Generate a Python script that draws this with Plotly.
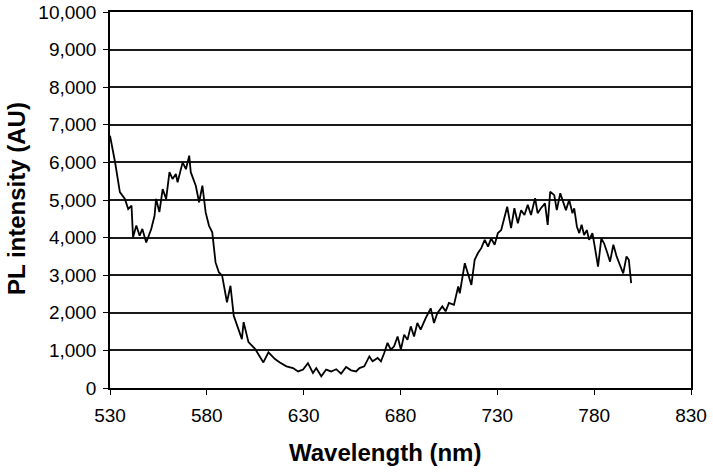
import plotly.graph_objects as go

# PL spectrum (wavelength in nm, intensity in AU)
wavelength = [
    530.0, 532.6, 535.1, 537.7, 539.4, 541.1, 541.9, 543.6, 545.3, 546.7,
    548.7, 551.3, 553.0, 553.8, 555.5, 557.2, 559.0, 560.7, 562.3, 564.0,
    564.9, 567.5, 569.2, 570.9, 571.7, 574.3, 576.0, 577.7, 579.4, 581.1,
    582.8, 584.5, 586.2, 587.9, 590.4, 592.2, 593.9, 596.4, 598.1, 599.0,
    601.5, 604.9, 609.2, 611.8, 615.2, 617.7, 621.1, 624.5, 627.1, 629.7,
    632.2, 634.8, 636.5, 639.1, 641.6, 644.2, 646.8, 649.3, 651.9, 654.5,
    657.1, 658.8, 661.3, 663.9, 665.6, 668.2, 669.9, 671.6, 673.3, 675.0,
    676.7, 678.5, 680.2, 681.9, 683.6, 685.3, 687.0, 688.7, 690.4, 693.0,
    695.6, 697.3, 699.0, 701.6, 703.3, 705.0, 707.6, 709.8, 710.6, 713.2,
    714.9, 716.6, 718.3, 720.0, 721.7, 723.5, 725.2, 726.8, 728.6, 730.3,
    732.0, 733.7, 735.1, 736.3, 737.1, 738.8, 740.6, 742.3, 744.0, 745.7,
    747.4, 749.5, 750.8, 752.5, 754.6, 756.0, 757.3, 759.4, 760.7, 762.5,
    764.2, 765.4, 767.1, 768.8, 769.7, 771.1, 772.3, 773.5, 774.8, 776.2,
    777.4, 779.1, 780.3, 782.0, 783.7, 785.1, 786.8, 788.2, 789.9, 791.6,
    793.3, 795.0, 796.7, 797.9, 799.1,
]
intensity = [
    6710, 6010, 5210, 5030, 4760, 4850, 4010, 4320, 4050, 4230,
    3870, 4230, 4580, 5030, 4680, 5290, 5030, 5740, 5560, 5690,
    5470, 6000, 5820, 6180, 5740, 5380, 4940, 5380, 4670, 4320,
    4140, 3340, 3080, 2990, 2280, 2720, 1920, 1570, 1300, 1750,
    1220, 1040, 680, 950, 770, 680, 575, 530, 440, 490,
    660, 400, 530, 310, 490, 440, 500, 380, 560, 470,
    440, 530, 575, 840, 710, 800, 710, 930, 1200, 1020,
    1110, 1370, 1020, 1420, 1280, 1640, 1370, 1730, 1550, 1860,
    2120, 1730, 1990, 2170, 2040, 2260, 2210, 2700, 2520, 3320,
    3050, 2740, 3410, 3590, 3720, 3940, 3760, 3980, 3810, 4120,
    4200, 4560, 4820, 4470, 4250, 4780, 4380, 4730, 4600, 4870,
    4600, 5050, 4650, 4780, 4910, 4340, 5220, 5130, 4730, 5180,
    4910, 4730, 5000, 4650, 4780, 4290, 4120, 4340, 4070, 4200,
    3940, 4120, 3760, 3230, 3980, 3850, 3590, 3360, 3810, 3500,
    3270, 3050, 3500, 3410, 2790,
]

x_ticks = [530, 580, 630, 680, 730, 780, 830]
y_ticks = list(range(0, 10001, 1000))
y_tick_labels = [f"{v:,}" for v in y_ticks]

FONT = "Liberation Sans, Arial, sans-serif"
W, H = 713, 473
L, R, T, B = 110, 22, 12, 85

fig = go.Figure()
fig.add_trace(go.Scatter(
    x=wavelength,
    y=intensity,
    mode="lines",
    line=dict(color="black", width=1.8),
    showlegend=False,
    hoverinfo="x+y",
))

axis_common = dict(
    ticks="outside",
    ticklen=5,
    tickwidth=1.2,
    tickcolor="black",
    zeroline=False,
    showline=True,
    linecolor="black",
    linewidth=1.5,
    mirror=True,
    automargin=False,
    ticklabeloverflow="allow",
    tickfont=dict(size=19),
)

fig.update_layout(
    width=W,
    height=H,
    paper_bgcolor="white",
    plot_bgcolor="white",
    margin=dict(l=L, r=R, t=T, b=B),
    font=dict(family=FONT, color="black", size=19),
    xaxis=dict(
        range=[530, 830],
        tickvals=x_ticks,
        showgrid=False,
        ticklabelstandoff=4,
        **axis_common,
    ),
    yaxis=dict(
        range=[0, 10000],
        tickvals=y_ticks,
        ticktext=y_tick_labels,
        showgrid=True,
        gridcolor="#1a1a1a",
        gridwidth=1.5,
        ticklabelstandoff=3,
        **axis_common,
    ),
)

# axis titles as annotations, positioned relative to the plot area
plot_w = W - L - R
plot_h = H - T - B
fig.add_annotation(
    text="<b>Wavelength (nm)</b>",
    x=(385 - L) / plot_w, y=-(452 - (H - B)) / plot_h,
    xref="paper", yref="paper", xanchor="center", yanchor="middle",
    showarrow=False, font=dict(size=24),
)
fig.add_annotation(
    text="<b>PL intensity (AU)</b>",
    x=-(L - 16) / plot_w, y=((H - B) - 199) / plot_h,
    xref="paper", yref="paper", xanchor="center", yanchor="middle",
    showarrow=False, textangle=-90, font=dict(size=24),
)

# drop the default 8px page margin so the figure fills the window
fig.write_html(
    "out.html",
    config={"displayModeBar": False},
    post_script="document.body.style.margin = '0';",
)
